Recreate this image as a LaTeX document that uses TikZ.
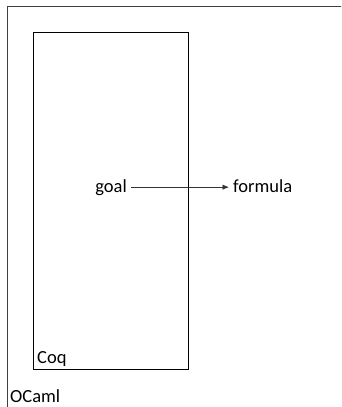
\documentclass[tikz,border=0pt]{standalone}
\usepackage{fontspec}
\setmainfont{Carlito}
\usetikzlibrary{arrows.meta}
\begin{document}
\begin{tikzpicture}[x=1pt,y=-1pt,
  frame/.style={draw=black!75,line width=1pt},
  box/.style={draw=black,line width=0.9pt},
  lbl/.style={font=\fontsize{18.5}{20}\selectfont,inner sep=0pt,anchor=base west},
  link/.style={draw=black!80,line width=0.8pt,-{Latex[length=6.5pt,width=5.5pt]}}]
  \useasboundingbox (0,0) rectangle (341,407);
  \clip (0,0) rectangle (341,407);
  % outer OCaml region (runs past the page)
  \draw[frame] (7.5,6.5) rectangle (360,430);
  \node[lbl] (ocaml) at (10,402) {OCaml};
  % inner Coq region
  \draw[box] (33.5,32.5) rectangle (188.5,369.5);
  \node[lbl] (coq) at (37,363) {Coq};
  % goal translated to formula
  \node[lbl,anchor=base east] (goal) at (127,192) {goal};
  \node[lbl] (formula) at (233,192) {formula};
  \draw[link] (goal.east) ++(4,0) coordinate (gs) -- ([xshift=-4pt]formula.west |- gs);
\end{tikzpicture}
\end{document}
